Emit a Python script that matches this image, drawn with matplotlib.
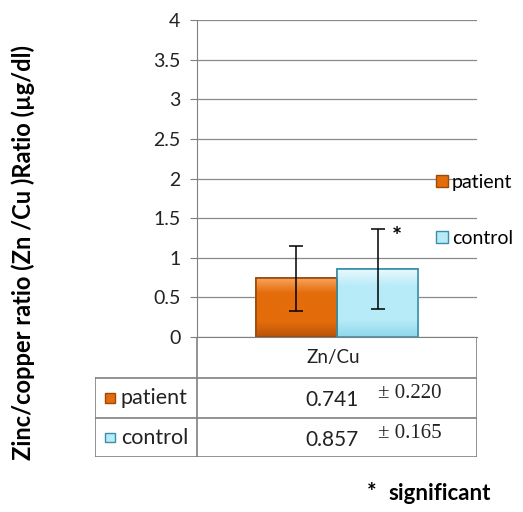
import numpy as np
import matplotlib.pyplot as plt
from matplotlib.patches import Rectangle
from matplotlib.colors import LinearSegmentedColormap

groups = ['patient', 'control']
means = [0.741, 0.857]
sd_text = ['0.220', '0.165']
err = [0.41, 0.50]          # error bar half-lengths as drawn
category = 'Zn/Cu'
yticks = [0, 0.5, 1, 1.5, 2, 2.5, 3, 3.5, 4]
ylabel = 'Zinc/copper ratio (Zn /Cu )Ratio (µg/dl)'

face = ['#E46C0A', '#B7EBF8']
light = ['#F9A25A', '#E6F9FD']
dark = ['#B85408', '#8FD8EC']
edge = ['#9A4A0B', '#3A8FA8']

plt.rcParams['font.family'] = ['Lato', 'DejaVu Sans']

W, H = 523, 512
fig = plt.figure(figsize=(W / 100, H / 100), dpi=100)
ax = fig.add_axes([197 / W, 1 - 337 / H, (477 - 197) / W, (337 - 20) / H])

width = 0.29
xs = [-width / 2, width / 2]
bars = ax.bar(xs, means, width=width, color=face, edgecolor=edge, linewidth=1.2, zorder=3)

# bevel-like gradient fill
for b, lc, fc, dc in zip(bars, light, face, dark):
    cmap = LinearSegmentedColormap.from_list('g', [dc, fc, fc, fc, lc])
    x0, y0 = b.get_x(), b.get_y()
    grad = np.linspace(0, 1, 100).reshape(-1, 1)
    im = ax.imshow(grad, cmap=cmap, origin='lower', aspect='auto',
                   extent=[x0, x0 + b.get_width(), y0, y0 + b.get_height()], zorder=3)
    im.set_clip_path(b)
    edge_rect = Rectangle((x0, y0), b.get_width(), b.get_height(), fill=False,
                          edgecolor=b.get_edgecolor(), linewidth=1.2, zorder=4)
    ax.add_patch(edge_rect)

ax.errorbar(xs, means, yerr=err, fmt='none', ecolor='black', elinewidth=1.1,
            capsize=5, capthick=1.1, zorder=5)
ax.text(xs[1] + 0.07, means[1] + err[1] - 0.1, '*', fontsize=17, fontweight='bold',
        ha='center', va='center', zorder=6)

ax.set_xlim(-0.5, 0.5)
ax.set_ylim(0, 4)
ax.set_yticks(yticks)
ax.set_yticklabels([f'{t:g}' for t in yticks], fontsize=14, color='#222222')
ax.set_xticks([])
ax.tick_params(axis='y', direction='out', length=5, color='#808080', pad=7)
ax.yaxis.grid(True, color='#8a8a8a', linewidth=0.9)
ax.set_axisbelow(True)
for s in ['top', 'right']:
    ax.spines[s].set_visible(False)
ax.spines['left'].set_color('#808080')
ax.spines['bottom'].set_color('#808080')

fig.text(23 / W, 1 - 252 / H, ylabel, rotation=90, fontsize=17, fontweight='bold',
         ha='center', va='center')

# legend on the right
handles = [Rectangle((0, 0), 1, 1, facecolor=f, edgecolor=e, linewidth=1) for f, e in zip(face, edge)]
leg = ax.legend(handles, groups, loc='upper left', bbox_to_anchor=(0.855, 0.515),
                frameon=False, fontsize=14, handlelength=0.6, handleheight=0.6,
                handletextpad=0.2, labelspacing=2.0, borderaxespad=0, borderpad=0)

# data table below the axes
tax = fig.add_axes([95 / W, 1 - 457 / H, (477 - 95) / W, (457 - 337) / H])
tax.set_xlim(0, 1)
tax.set_ylim(0, 1)
tax.axis('off')
split = (197 - 95) / (477 - 95)
rows = [1, 1 - 41 / 120, 1 - 81 / 120, 0]
lc = '#808080'
tax.plot([split, split], [0, 1], color=lc, lw=1.2)
tax.plot([1, 1], [0, 1], color=lc, lw=1.2)
tax.plot([0, 0], [0, rows[1]], color=lc, lw=1.2)
tax.plot([0, 1], [rows[1], rows[1]], color=lc, lw=1.2)
tax.plot([0, 1], [rows[2], rows[2]], color=lc, lw=1.2)
tax.plot([0, 1], [0, 0], color=lc, lw=1.2)
tax.text((split + 1) / 2 - 0.01, (rows[0] + rows[1]) / 2, category, fontsize=13.5,
         ha='center', va='center', color='#222222')
for i, g in enumerate(groups):
    yc = (rows[i + 1] + rows[i + 2]) / 2
    tax.add_patch(Rectangle((0.027, yc - 0.04), 0.026, 0.08, facecolor=face[i],
                            edgecolor=edge[i], lw=1))
    tax.text(0.068, yc, g, fontsize=15.5, ha='left', va='center', color='#222222')
    tax.text(0.62, yc - 0.02, f'{means[i]:.3f}', fontsize=15, ha='center', va='center',
             color='#222222')
    tax.text(0.74, yc + 0.035, f'± {sd_text[i]}', fontsize=15, ha='left', va='center',
             family='Liberation Serif', color='#222222')

fig.text(372 / W, 1 - 492 / H, '*', fontsize=16, fontweight='bold',
         ha='center', va='center')
fig.text(388 / W, 1 - 494 / H, 'significant', fontsize=16, fontweight='bold',
         ha='left', va='center')

fig.savefig('out.png', dpi=100)
